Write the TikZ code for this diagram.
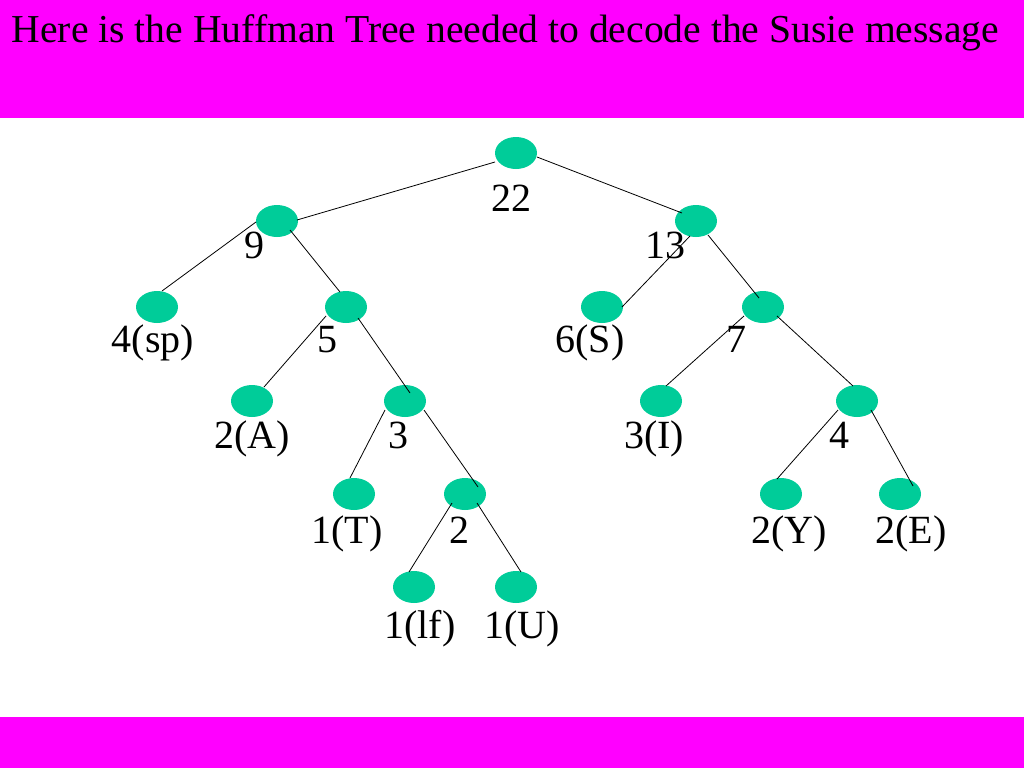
\documentclass[tikz,border=0pt]{standalone}
\usepackage{fontspec}
\setmainfont{Liberation Serif}
\usetikzlibrary{shapes.geometric}
\definecolor{band}{HTML}{FF00FF}
\definecolor{leaf}{HTML}{00CC99}
\tikzset{
  hnode/.style={ellipse,fill=leaf,draw=none,minimum width=42pt,minimum height=32pt,inner sep=0pt},
  hlabel/.style={anchor=base,inner sep=0pt,font=\fontsize{40}{48}\selectfont},
  hedge/.style={draw=black,line width=0.8pt}
}
\begin{document}
\begin{tikzpicture}[x=1pt,y=-1pt]
\useasboundingbox (0,0) rectangle (1024,768);
\fill[white] (0,0) rectangle (1024,768);
\fill[band] (0,0) rectangle (1024,118);
\fill[band] (0,717) rectangle (1024,768);
\node[anchor=base west,inner sep=0pt,font=\fontsize{39.6}{48}\selectfont] (title) at (11.5,43) {Here is the Huffman Tree needed to decode the Susie message};

% nodes
\node[hnode] (r22) at (516,153) {};
\node[hnode] (n9) at (277,221) {};
\node[hnode] (n13) at (696,221) {};
\node[hnode] (sp) at (157,307) {};
\node[hnode] (n5) at (346,307) {};
\node[hnode] (S) at (602,307) {};
\node[hnode] (n7) at (763,307) {};
\node[hnode] (A) at (252,401) {};
\node[hnode] (n3) at (405,401) {};
\node[hnode] (I) at (661,401) {};
\node[hnode] (n4) at (857,401) {};
\node[hnode] (T) at (354,494) {};
\node[hnode] (n2) at (465,494) {};
\node[hnode] (Y) at (781,494) {};
\node[hnode] (E) at (900,494) {};
\node[hnode] (lf) at (414,587) {};
\node[hnode] (U) at (516,587) {};

% labels
\node[hlabel] (l22) at (511,211) {22};
\node[hlabel] (l9) at (254.5,258) {9};
\node[hlabel] (l13) at (665,258) {13};
\node[hlabel] (lsp) at (153,352) {4(sp)};
\node[hlabel] (l5) at (327,352) {5};
\node[hlabel] (lS) at (590,352) {6(S)};
\node[hlabel] (l7) at (736,352) {7};
\node[hlabel] (lA) at (252,448) {2(A)};
\node[hlabel] (l3) at (398.5,448) {3};
\node[hlabel] (lI) at (654,448) {3(I)};
\node[hlabel] (l4) at (839,448) {4};
\node[hlabel] (lT) at (347,543) {1(T)};
\node[hlabel] (l2) at (459,543) {2};
\node[hlabel] (lY) at (789,543) {2(Y)};
\node[hlabel] (lE) at (911,543) {2(E)};
\node[hlabel] (llf) at (420,638) {1(lf)};
\node[hlabel] (lU) at (522,638) {1(U)};

% edges
\draw[hedge] ([shift={(-21,9)}]r22.center) -- ([shift={(20,-1)}]n9.center);
\draw[hedge] ([shift={(21,4)}]r22.center) -- ([shift={(-14,-8)}]n13.center);
\draw[hedge] ([shift={(-21,1)}]n9.center) -- ([shift={(5,-16)}]sp.center);
\draw[hedge] ([shift={(13,9)}]n9.center) -- ([shift={(-6,-15)}]n5.center);
\draw[hedge] ([shift={(-20,9)}]n5.center) -- ([shift={(12,-14)}]A.center);
\draw[hedge] ([shift={(12,11)}]n5.center) -- ([shift={(5,-8)}]n3.center);
\draw[hedge] ([shift={(-20,9)}]n3.center) -- ([shift={(-4,-16)}]T.center);
\draw[hedge] ([shift={(19,9)}]n3.center) -- ([shift={(13,-7)}]n2.center);
\draw[hedge] ([shift={(-13,9)}]n2.center) -- ([shift={(-5,-15)}]lf.center);
\draw[hedge] ([shift={(12,9)}]n2.center) -- ([shift={(5,-15)}]U.center);
\draw[hedge] ([shift={(-6,15)}]n13.center) -- ([shift={(20,0)}]S.center);
\draw[hedge] ([shift={(12,14)}]n13.center) -- ([shift={(-4,-9)}]n7.center);
\draw[hedge] ([shift={(-19,9)}]n7.center) -- ([shift={(5,-15)}]I.center);
\draw[hedge] ([shift={(14,9)}]n7.center) -- ([shift={(-4,-15)}]n4.center);
\draw[hedge] ([shift={(-19,9)}]n4.center) -- ([shift={(-4,-15)}]Y.center);
\draw[hedge] ([shift={(14,9)}]n4.center) -- ([shift={(13,-8)}]E.center);
\end{tikzpicture}
\end{document}
